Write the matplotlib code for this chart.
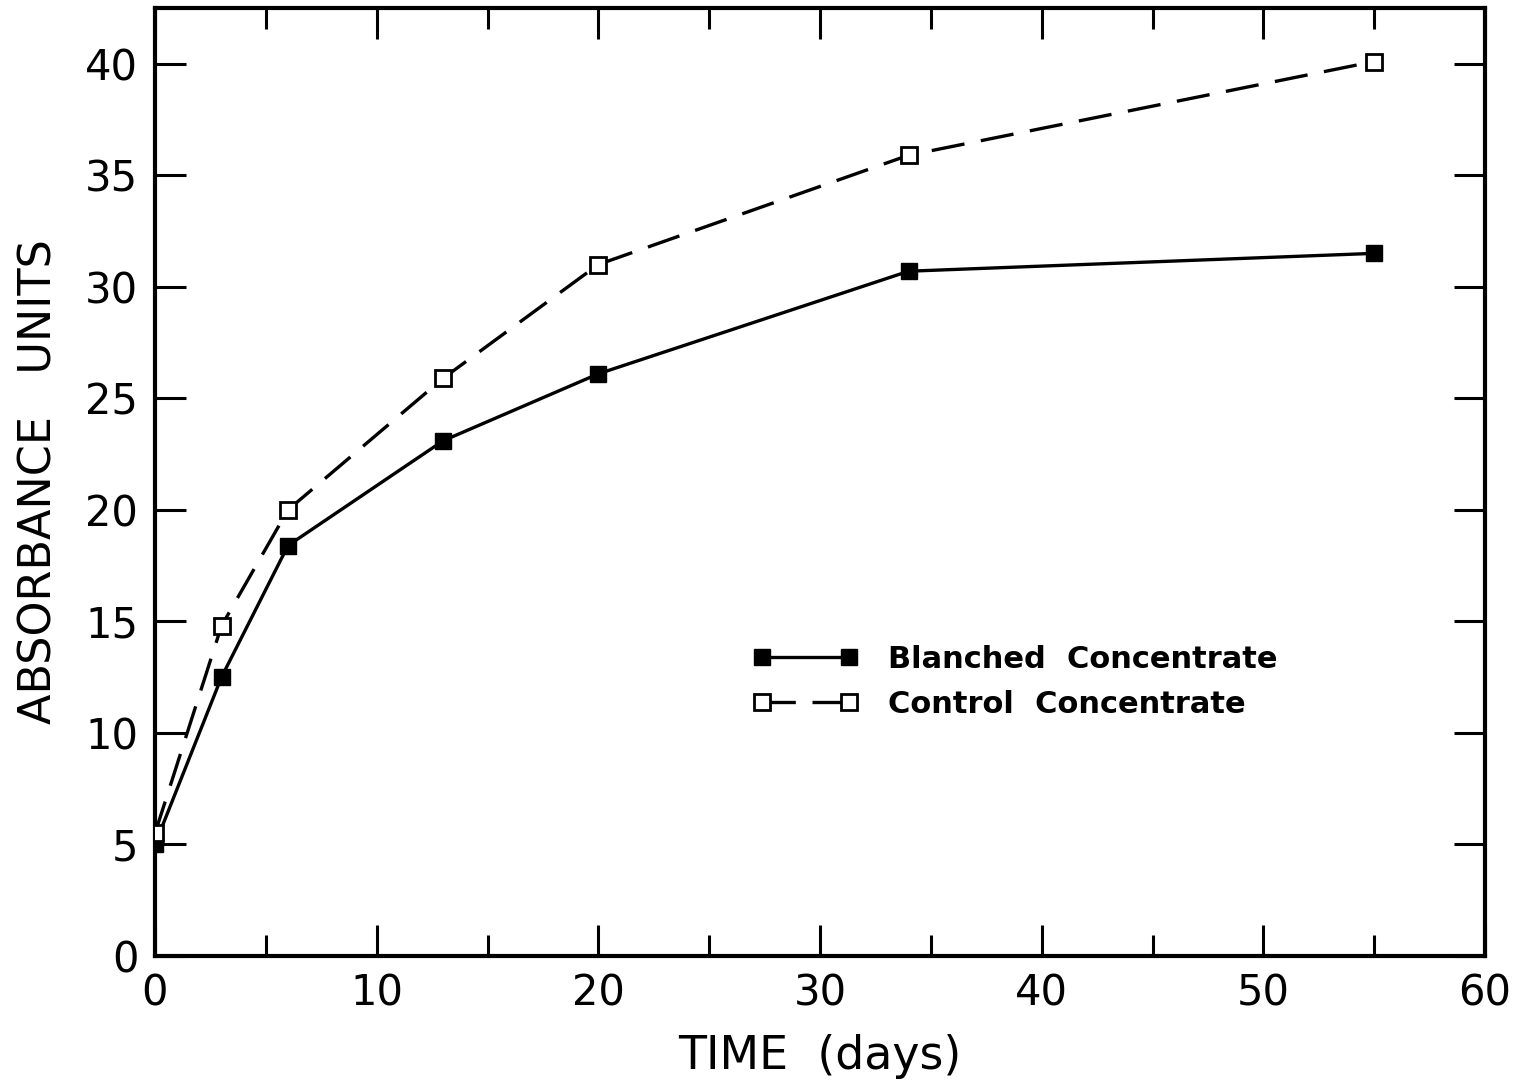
import matplotlib
matplotlib.use('Agg')
import matplotlib.pyplot as plt
from matplotlib.ticker import MultipleLocator

# Data
days = [0, 3, 6, 13, 20, 34, 55]
blanched = [5.0, 12.5, 18.4, 23.1, 26.1, 30.7, 31.5]
control = [5.5, 14.8, 20.0, 25.9, 31.0, 35.9, 40.1]

plt.rcParams['font.family'] = 'DejaVu Sans'

fig = plt.figure(figsize=(15.3, 10.84), dpi=100)
ax = fig.add_axes([155 / 1530, 1 - 956 / 1084, 1330 / 1530, 948 / 1084])

# Series
ax.plot(days, blanched, color='black', lw=2.4, marker='s', markersize=12,
        markerfacecolor='black', markeredgecolor='black',
        label='Blanched  Concentrate', zorder=3)
ax.plot(days, control, color='black', lw=2.4, dashes=(10, 5), marker='s',
        markersize=12, markerfacecolor='white', markeredgecolor='black',
        markeredgewidth=2, label='Control  Concentrate', zorder=4)

ax.set_xlim(0, 60)
ax.set_ylim(0, 42.5)

ax.xaxis.set_major_locator(MultipleLocator(10))
ax.xaxis.set_minor_locator(MultipleLocator(5))
ax.yaxis.set_major_locator(MultipleLocator(5))

ax.tick_params(which='major', direction='in', top=True, right=True,
               length=22, width=2.2, labelsize=30, pad=12)
ax.tick_params(which='minor', direction='in', top=True, right=True,
               length=15, width=2.2)
for s in ax.spines.values():
    s.set_linewidth(3)

ax.set_xlabel('TIME  (days)', fontsize=33, labelpad=14)
ax.set_ylabel('ABSORBANCE   UNITS', fontsize=32, labelpad=18)

leg = ax.legend(loc='upper left', bbox_to_anchor=(0.429, 0.357), numpoints=2,
                handlelength=3.45, handletextpad=0.95, labelspacing=0.52,
                frameon=False, prop={'size': 22, 'weight': 'bold'})

fig.savefig('out.png', dpi=100)
